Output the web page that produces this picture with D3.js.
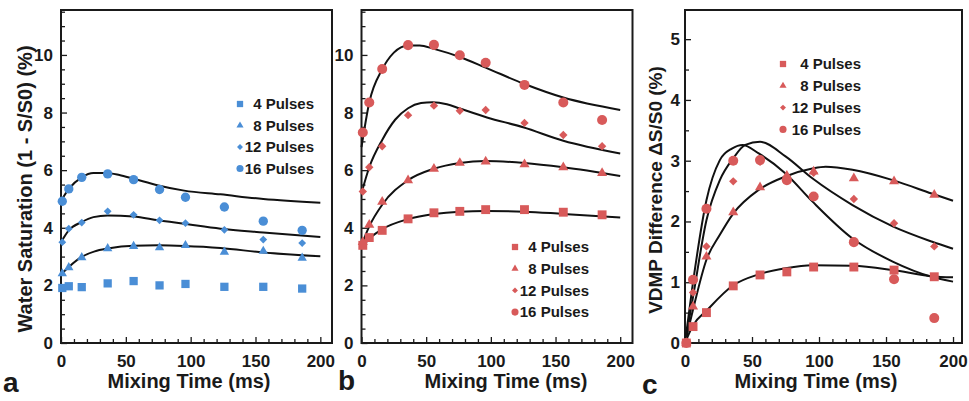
<!DOCTYPE html>
<html>
<head>
<meta charset="utf-8">
<script src="https://cdn.jsdelivr.net/npm/d3@7"></script>
<style>
  body { margin: 0; background: #fff; }
  svg text { font-family: "Liberation Sans", Arial, Helvetica, sans-serif; font-weight: bold; fill: #1a1a1a; }
</style>
</head>
<body>
<div id="chart"></div>
<script>
// ---- data ----
const mixTimes = [1, 6, 16, 36, 56, 76, 96, 126, 156, 186];
const pulseLabels = ['4 Pulses', '8 Pulses', '12 Pulses', '16 Pulses'];
const xTicks = d3.range(0, 201, 10);

// panel a: water saturation (1 - S/S0) (%)
const satA4  = [1.91, 1.97, 1.94, 2.07, 2.15, 2.00, 2.05, 1.95, 1.95, 1.89];
const satA8  = [2.41, 2.62, 2.97, 3.28, 3.36, 3.31, 3.39, 3.16, 3.19, 2.95];
const satA12 = [3.50, 3.97, 4.18, 4.57, 4.45, 4.26, 4.16, 3.93, 3.59, 3.47];
const satA16 = [4.92, 5.35, 5.75, 5.87, 5.67, 5.33, 5.06, 4.72, 4.23, 3.91];
const fitA8  = [[0, 2.38], [6, 2.64], [16, 2.99], [26, 3.18], [36, 3.28], [56, 3.38], [75, 3.39], [95, 3.37], [123, 3.30], [156, 3.14], [200, 3.01]];
const fitA12 = [[0, 3.50], [6, 3.91], [16, 4.20], [25, 4.37], [36, 4.43], [56, 4.39], [75, 4.26], [95, 4.14], [123, 3.97], [156, 3.84], [200, 3.68]];
const fitA16 = [[0, 4.93], [6, 5.35], [16, 5.75], [25, 5.90], [35, 5.90], [45, 5.83], [56, 5.70], [75, 5.47], [95, 5.29], [123, 5.16], [156, 5.00], [200, 4.87]];

// panel b: same quantity, second sample
const satB4  = [3.39, 3.66, 3.91, 4.31, 4.52, 4.57, 4.63, 4.63, 4.54, 4.45];
const satB8  = [3.50, 4.10, 4.90, 5.65, 6.05, 6.25, 6.30, 6.20, 6.10, 5.90];
const satB12 = [5.26, 6.10, 6.83, 7.91, 8.24, 8.06, 8.09, 7.64, 7.22, 6.83];
const satB16 = [7.31, 8.35, 9.51, 10.34, 10.35, 9.99, 9.73, 8.96, 8.35, 7.74];
const fitB4  = [[0, 3.30], [6, 3.62], [16, 3.95], [36, 4.30], [56, 4.48], [76, 4.56], [96, 4.58], [126, 4.56], [156, 4.48], [200, 4.36]];
const fitB8  = [[0, 3.40], [6, 4.05], [16, 4.80], [36, 5.65], [56, 6.05], [76, 6.25], [96, 6.32], [126, 6.25], [156, 6.10], [200, 5.80]];
const fitB12 = [[0, 5.20], [6, 6.10], [16, 7.05], [26, 7.75], [36, 8.15], [46, 8.33], [55, 8.36], [66, 8.29], [76, 8.14], [97, 7.83], [125, 7.49], [156, 7.02], [200, 6.58]];
const fitB16 = [[0, 6.80], [6, 8.35], [16, 9.50], [25, 10.08], [36, 10.33], [45, 10.33], [56, 10.21], [76, 9.93], [96, 9.56], [126, 8.99], [156, 8.52], [200, 8.09]];

// panel c: VDMP difference dS/S0 (%)
const diffC4  = [0, 0.27, 0.50, 0.94, 1.12, 1.17, 1.25, 1.25, 1.20, 1.09];
const diffC8  = [0, 0.60, 1.42, 2.15, 2.56, 2.75, 2.82, 2.71, 2.66, 2.44];
const diffC12 = [0, 0.83, 1.59, 2.66, 2.98, 2.74, 2.80, 2.37, 1.97, 1.59];
const diffC16 = [0, 1.04, 2.21, 3.00, 3.01, 2.68, 2.41, 1.66, 1.05, 0.41];
const fitC4  = [[0, 0], [6, 0.29], [16, 0.53], [36, 0.95], [55, 1.13], [75, 1.23], [95, 1.28], [125, 1.27], [155, 1.20], [184, 1.10], [200, 1.08]];
const fitC8  = [[0, 0], [6, 0.55], [16, 1.37], [26, 1.78], [36, 2.13], [55, 2.52], [75, 2.74], [95, 2.87], [105, 2.90], [125, 2.85], [155, 2.68], [184, 2.46], [200, 2.34]];
const fitC12 = [[0, 0], [6, 0.76], [16, 2.02], [26, 2.68], [36, 3.04], [45, 3.26], [56, 3.31], [75, 3.07], [95, 2.71], [125, 2.27], [155, 1.92], [184, 1.67], [200, 1.55]];
const fitC16 = [[0, 0], [6, 1.00], [16, 2.35], [26, 3.01], [35, 3.20], [43, 3.26], [55, 3.12], [75, 2.79], [95, 2.33], [125, 1.72], [155, 1.34], [184, 1.09], [200, 1.01]];

const BLUE = '#4a8ed6';
const RED = '#d85a5a';
const symbols = [
    { type: d3.symbolSquare, size: 72, rotate: 0 },
    { type: d3.symbolTriangle, size: 40, rotate: 0 },
    { type: d3.symbolSquare, size: 32, rotate: 45 },
    { type: d3.symbolCircle, size: 72, rotate: 0 }
];

const svg = d3.select('#chart').append('svg')
    .attr('width', 969)
    .attr('height', 401);

svg.append('rect').attr('width', 969).attr('height', 401).attr('fill', '#fff');

function drawPanel(p) {
    const x = d3.scaleLinear().domain([0, p.xMax]).range([p.left, p.right]);
    const y = d3.scaleLinear().domain([0, p.yMax]).range([p.bottom, p.top]);
    const g = svg.append('g');

    // x axis, ticks pointing into the plot
    const xAxis = g.append('g')
        .attr('transform', `translate(0,${p.bottom})`)
        .call(d3.axisBottom(x)
            .tickValues(xTicks)
            .tickSize(-4)
            .tickPadding(12)
            .tickFormat(d => d % 50 === 0 ? d : ''));
    xAxis.selectAll('line').attr('y2', d => d % 50 === 0 ? -6 : -4);

    const yAxis = g.append('g')
        .attr('transform', `translate(${p.left},0)`)
        .call(d3.axisLeft(y)
            .tickValues(p.yTicks)
            .tickSize(-4)
            .tickPadding(p.yPad)
            .tickFormat(d => (d % p.yLabelStep === 0) ? d : ''));
    yAxis.selectAll('line').attr('x2', d => d % p.yLabelStep === 0 ? 6 : 4);

    g.selectAll('.domain').remove();
    g.selectAll('.tick line').attr('stroke', '#1a1a1a').attr('stroke-width', 1.3);
    g.selectAll('.tick text').style('font-size', '17px').attr('fill', '#1a1a1a');

    // frame
    g.append('rect')
        .attr('x', p.left).attr('y', p.top)
        .attr('width', p.right - p.left).attr('height', p.bottom - p.top)
        .attr('fill', 'none').attr('stroke', '#1a1a1a').attr('stroke-width', 2);

    // fit curves
    const line = d3.line()
        .x(d => x(d[0]))
        .y(d => y(d[1]))
        .curve(d3.curveMonotoneX);
    p.fits.forEach(f => {
        g.append('path').datum(f)
            .attr('fill', 'none').attr('stroke', '#111').attr('stroke-width', 2)
            .attr('d', line);
    });

    // data points
    p.series.forEach((vals, i) => {
        const s = symbols[i];
        const sym = d3.symbol().type(s.type).size(s.size * p.markScale);
        g.selectAll(null).data(vals).enter().append('path')
            .attr('d', sym)
            .attr('fill', p.color)
            .attr('transform', (d, j) => `translate(${x(mixTimes[j])},${y(d)}) rotate(${s.rotate})`);
    });

    // legend
    pulseLabels.forEach((lab, i) => {
        const s = symbols[i];
        const yy = p.legY + i * p.legStep;
        g.append('path')
            .attr('d', d3.symbol().type(s.type).size(s.size * 0.55))
            .attr('fill', p.color)
            .attr('transform', `translate(${p.legMarkX},${yy}) rotate(${s.rotate})`);
        g.append('text')
            .attr('x', p.legTextX).attr('y', yy).attr('dy', '0.35em')
            .attr('text-anchor', 'end')
            .style('font-size', '15px')
            .text(lab);
    });

    // axis titles and panel letter
    g.append('text')
        .attr('x', p.xTitleX).attr('y', 388)
        .attr('text-anchor', 'middle')
        .style('font-size', '20px')
        .text('Mixing Time (ms)');
    if (p.yTitle) {
        g.append('text')
            .attr('transform', `translate(${p.yTitleX},${p.yTitleY}) rotate(-90)`)
            .attr('text-anchor', 'middle').attr('dy', '0.35em')
            .style('font-size', p.yTitleSize)
            .text(p.yTitle);
    }
    g.append('text')
        .attr('x', p.letterX).attr('y', p.letterY)
        .style('font-size', '28px')
        .text(p.letter);
}

const halfSteps = max => d3.range(0, max + 0.01, 0.5);

drawPanel({
    left: 61, right: 332, top: 10, bottom: 343, xMax: 209, yMax: 11.56,
    yTicks: halfSteps(11.5), yLabelStep: 2, yPad: 8,
    color: BLUE, markScale: 0.95,
    series: [satA4, satA8, satA12, satA16], fits: [fitA8, fitA12, fitA16],
    legY: 104, legStep: 21.5, legMarkX: 240, legTextX: 314,
    xTitleX: 189, yTitle: 'Water Saturation (1 - S/S0) (%)', yTitleSize: '20px', yTitleX: 25, yTitleY: 189,
    letter: 'a', letterX: 3, letterY: 392
});

drawPanel({
    left: 361.5, right: 632.5, top: 10, bottom: 343, xMax: 209.5, yMax: 11.56,
    yTicks: halfSteps(11.5), yLabelStep: 2, yPad: 8,
    color: RED, markScale: 1.1,
    series: [satB4, satB8, satB12, satB16], fits: [fitB4, fitB8, fitB12, fitB16],
    legY: 247, legStep: 21.7, legMarkX: 515, legTextX: 589,
    xTitleX: 506, yTitle: null,
    letter: 'b', letterX: 338, letterY: 390
});

drawPanel({
    left: 685, right: 962, top: 10, bottom: 343, xMax: 206.7, yMax: 5.48,
    yTicks: halfSteps(5), yLabelStep: 1, yPad: 5,
    color: RED, markScale: 1.1,
    series: [diffC4, diffC8, diffC12, diffC16], fits: [fitC4, fitC8, fitC12, fitC16],
    legY: 64, legStep: 21.8, legMarkX: 783, legTextX: 861,
    xTitleX: 816, yTitle: 'VDMP Difference \u0394S/S0 (%)', yTitleSize: '19px', yTitleX: 655, yTitleY: 190,
    letter: 'c', letterX: 642, letterY: 394
});
</script>
</body>
</html>
